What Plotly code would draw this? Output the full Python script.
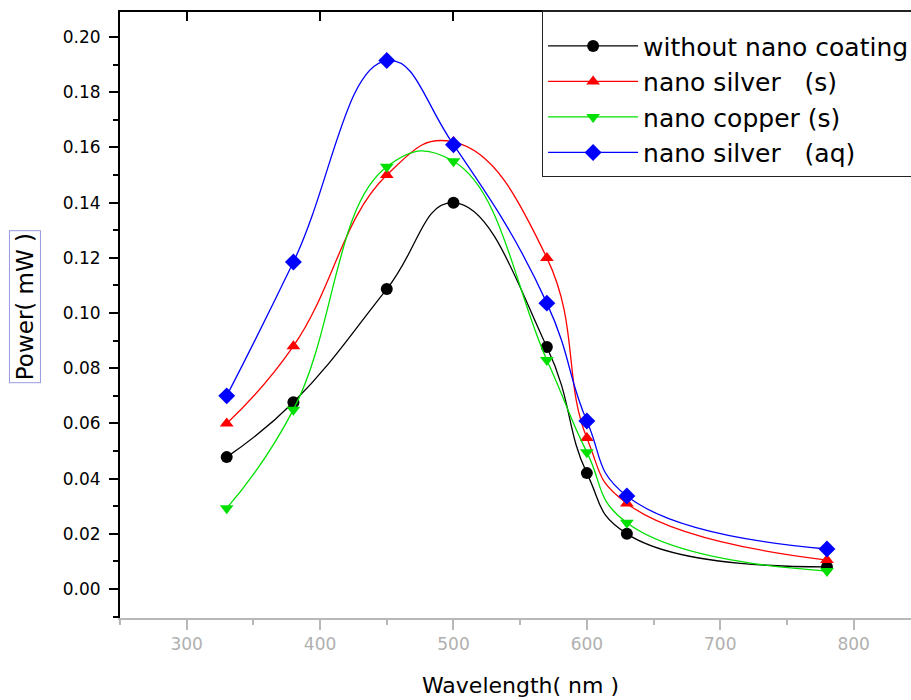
import plotly.graph_objects as go

wavelength = [330, 380, 450, 500, 570, 600, 630, 780]
without_coating = [0.0478, 0.0677, 0.1087, 0.1400, 0.0877, 0.0420, 0.0200, 0.0080]
silver_s = [0.0600, 0.0880, 0.1500, 0.1620, 0.1200, 0.0547, 0.0310, 0.0105]
copper_s = [0.0293, 0.0650, 0.1530, 0.1550, 0.0830, 0.0496, 0.0240, 0.0065]
silver_aq = [0.0700, 0.1185, 0.1915, 0.1610, 0.1036, 0.0609, 0.0337, 0.0145]

series = [
    ("without nano coating", without_coating, "black", "circle", 12),
    ("nano silver   (s)", silver_s, "red", "triangle-up", 12),
    ("nano copper (s)", copper_s, "#00e000", "triangle-down", 12),
    ("nano silver   (aq)", silver_aq, "blue", "diamond", 13),
]

FONT = "DejaVu Sans, Liberation Sans, Arial, sans-serif"

fig = go.Figure()
for name, vals, color, sym, size in series:
    fig.add_trace(go.Scatter(
        x=wavelength, y=vals, name=name, mode="lines+markers",
        line=dict(color=color, width=1.3, shape="spline", smoothing=1.3),
        marker=dict(color=color, symbol=sym, size=size),
    ))

# invisible trace to carry the top axis
fig.add_trace(go.Scatter(x=[wavelength[0]], y=[without_coating[0]], xaxis="x2",
                         mode="markers", marker=dict(opacity=0), showlegend=False,
                         hoverinfo="skip"))

fig.update_layout(
    width=911, height=700,
    margin=dict(l=120, r=0, t=12, b=82, autoexpand=False),
    paper_bgcolor="white", plot_bgcolor="white",
    font=dict(family=FONT, color="black"),
    xaxis=dict(
        range=[250, 843], tickvals=[300, 400, 500, 600, 700, 800],
        showgrid=False, zeroline=False,
        showline=True, linecolor="#b8b8b8", linewidth=2,
        ticks="outside", ticklen=10, tickwidth=2, tickcolor="#b8b8b8",
        minor=dict(dtick=50, ticks="outside", ticklen=5, tickwidth=2, tickcolor="#b8b8b8", showgrid=False),
        tickfont=dict(size=17, color="#b0b0b0", family=FONT),
    ),
    xaxis2=dict(
        range=[250, 843], overlaying="x", side="top", tickvals=[300, 400, 500, 600, 700, 800],
        showgrid=False, zeroline=False, showticklabels=False,
        showline=True, linecolor="black", linewidth=2,
        ticks="inside", ticklen=9, tickwidth=2, tickcolor="black",
    ),
    yaxis=dict(
        range=[-0.0105, 0.2091], dtick=0.02, tick0=0, tickformat=".2f",
        showgrid=False, zeroline=False,
        showline=True, linecolor="black", linewidth=2,
        ticks="outside", ticklen=9, tickwidth=2, tickcolor="black",
        minor=dict(dtick=0.01, ticks="outside", ticklen=5, tickwidth=2, tickcolor="black", showgrid=False),
        tickfont=dict(size=17, color="black", family=FONT),
        ticklabelstandoff=5,
    ),
    legend=dict(
        x=0.533, y=1.0033, xanchor="left", yanchor="top",
        bgcolor="white", bordercolor="#222", borderwidth=1.5,
        font=dict(size=25, color="black", family=FONT), itemwidth=90,
        title=dict(text="&nbsp;", font=dict(size=9)),
    ),
    showlegend=True,
)

fig.add_annotation(text="Wavelength( nm )", xref="paper", yref="paper",
                   x=0.506, y=-0.112, xanchor="center", yanchor="middle",
                   showarrow=False, font=dict(size=22, color="black", family=FONT))
fig.add_annotation(text="Power( mW )", xref="paper", yref="paper",
                   x=-0.12, y=0.513, xanchor="center", yanchor="middle",
                   textangle=-90, showarrow=False, font=dict(size=23, color="black", family=FONT),
                   bordercolor="#9a9ae0", borderwidth=1, borderpad=2)

fig.write_html("out.html", config={"displayModeBar": False},
               post_script="document.body.style.margin='0';document.body.style.overflow='hidden';")
